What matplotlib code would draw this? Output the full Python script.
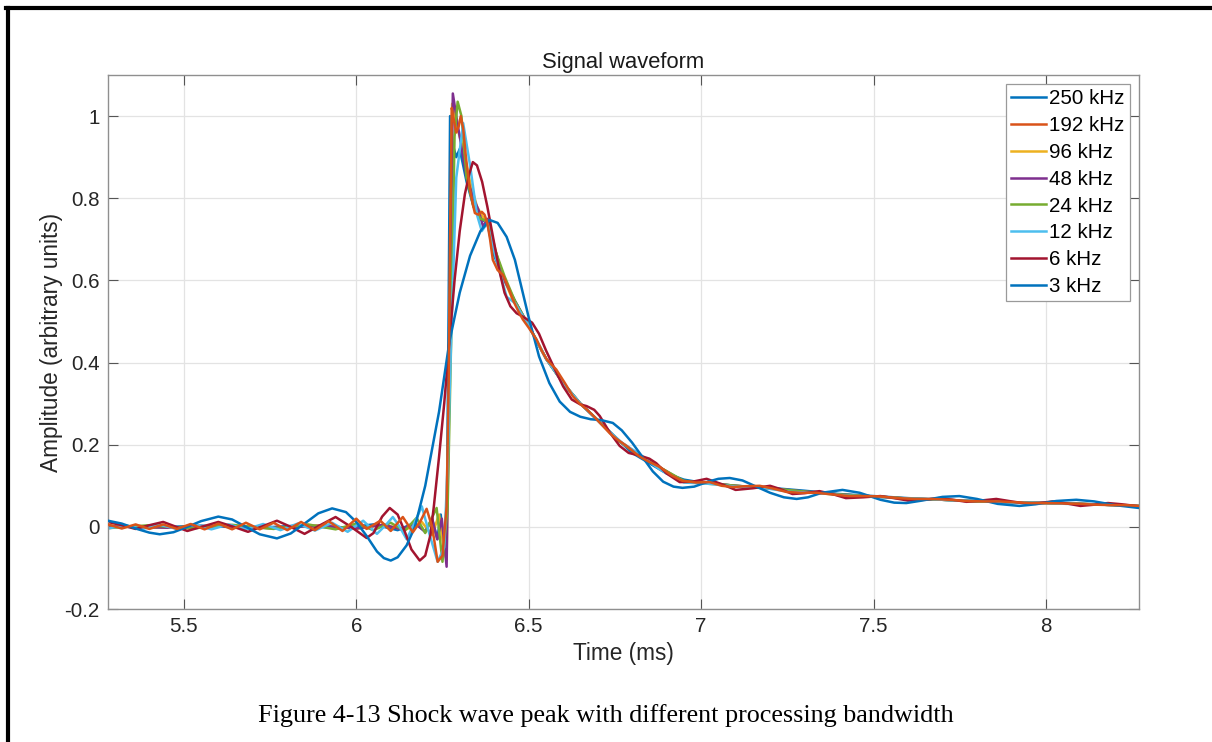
import matplotlib
matplotlib.use("Agg")
import matplotlib.pyplot as plt
from matplotlib.lines import Line2D

plt.rcParams['font.family'] = ['Liberation Sans', 'DejaVu Sans']
plt.rcParams['axes.unicode_minus'] = False

# ---- data (time in ms, amplitude) ----
labels = ['250 kHz', '192 kHz', '96 kHz', '48 kHz', '24 kHz', '12 kHz', '6 kHz', '3 kHz']
colors = ['#0072BD', '#D95319', '#EDB120', '#7E2F8E', '#77AC30', '#4DBEEE', '#A2142F', '#0072BD']

t_250 = [5.28, 5.40, 5.55, 5.70, 5.85, 5.95, 6.05, 6.12, 6.17, 6.20, 6.22, 6.235, 6.245, 6.255,
         6.262, 6.268, 6.272, 6.28, 6.29, 6.30, 6.32, 6.34, 6.36, 6.38, 6.40, 6.43, 6.46, 6.50,
         6.55, 6.60, 6.65, 6.70, 6.75, 6.80, 6.85, 6.90, 6.95, 7.00, 7.10, 7.20, 7.30, 7.40,
         7.50, 7.60, 7.70, 7.80, 7.90, 8.00, 8.10, 8.20, 8.27]
a_250 = [0.002, -0.002, 0.003, -0.003, 0.004, -0.004, 0.006, -0.008, 0.010, -0.012, 0.02, -0.03, 0.03, -0.06,
         -0.03, 0.55, 1.00, 0.93, 0.90, 0.92, 0.84, 0.78, 0.75, 0.74, 0.66, 0.60, 0.55, 0.49,
         0.41, 0.35, 0.30, 0.26, 0.22, 0.18, 0.155, 0.13, 0.115, 0.108, 0.10, 0.095, 0.088, 0.08,
         0.075, 0.07, 0.066, 0.063, 0.06, 0.058, 0.056, 0.053, 0.05]

t_192 = [5.28, 5.32, 5.36, 5.40, 5.44, 5.48, 5.52, 5.56, 5.60, 5.64, 5.68, 5.72, 5.76, 5.80,
         5.84, 5.88, 5.92, 5.96, 6.00, 6.03, 6.07, 6.10, 6.135, 6.164, 6.185, 6.204, 6.22, 6.236,
         6.25, 6.262, 6.268, 6.272, 6.277, 6.283, 6.29, 6.297, 6.303, 6.31, 6.318, 6.325, 6.33,
         6.338, 6.344, 6.354, 6.364, 6.372, 6.38, 6.388, 6.396, 6.41, 6.425, 6.44, 6.454, 6.47,
         6.483, 6.50, 6.523, 6.537, 6.552, 6.566, 6.58, 6.605, 6.628, 6.648, 6.668, 6.69, 6.716,
         6.735, 6.755, 6.784, 6.82, 6.85, 6.88, 6.915, 6.946, 6.985, 7.025, 7.06, 7.093, 7.13,
         7.17, 7.21, 7.248, 7.29, 7.335, 7.38, 7.43, 7.475, 7.52, 7.57, 7.62, 7.67, 7.72, 7.77,
         7.82, 7.865, 7.91, 7.955, 8.0, 8.05, 8.1, 8.145, 8.19, 8.23, 8.27]
a_192 = [0.006, -0.004, 0.006, -0.005, 0.006, -0.005, 0.007, -0.006, 0.008, -0.006, 0.010, -0.006,
         0.010, -0.008, 0.012, -0.008, 0.014, -0.010, 0.020, -0.005, 0.015, -0.010, 0.024, -0.013,
         0.012, 0.044, 0.0, -0.085, -0.07, 0.05, 0.35, 0.70, 1.02, 0.99, 0.96, 0.975, 1.00, 0.97,
         0.90, 0.85, 0.82, 0.785, 0.764, 0.76, 0.767, 0.76, 0.74, 0.70, 0.65, 0.625, 0.614, 0.585,
         0.553, 0.525, 0.505, 0.485, 0.456, 0.43, 0.408, 0.395, 0.383, 0.35, 0.318, 0.30, 0.286,
         0.268, 0.245, 0.228, 0.214, 0.197, 0.172, 0.158, 0.146, 0.125, 0.112, 0.108, 0.109, 0.10,
         0.097, 0.099, 0.10, 0.093, 0.085, 0.083, 0.083, 0.079, 0.075, 0.075, 0.074, 0.07, 0.068,
         0.068, 0.066, 0.063, 0.062, 0.062, 0.06, 0.058, 0.058, 0.057, 0.056, 0.054, 0.053, 0.053, 0.051]

t_96 = [5.28, 5.45, 5.60, 5.75, 5.90, 6.00, 6.08, 6.14, 6.19, 6.22, 6.24, 6.255, 6.262, 6.27,
        6.278, 6.29, 6.31, 6.33, 6.35, 6.37, 6.39, 6.42, 6.45, 6.50, 6.55, 6.60, 6.65, 6.70,
        6.76, 6.82, 6.88, 6.95, 7.02, 7.10, 7.20, 7.30, 7.40, 7.50, 7.60, 7.70, 7.80, 7.90,
        8.00, 8.10, 8.20, 8.27]
a_96 = [0.003, -0.002, 0.003, -0.003, 0.004, -0.005, 0.006, -0.008, 0.012, -0.02, 0.03, -0.06, -0.08, 0.4,
        1.03, 0.98, 0.92, 0.84, 0.78, 0.75, 0.72, 0.62, 0.56, 0.49, 0.41, 0.35, 0.30, 0.26,
        0.21, 0.175, 0.145, 0.11, 0.105, 0.10, 0.093, 0.085, 0.078, 0.074, 0.069, 0.066, 0.062, 0.06,
        0.058, 0.056, 0.053, 0.051]

t_48 = [5.28, 5.45, 5.60, 5.75, 5.90, 6.00, 6.08, 6.13, 6.17, 6.20, 6.22, 6.235, 6.248, 6.262,
        6.272, 6.28, 6.29, 6.30, 6.32, 6.34, 6.355, 6.368, 6.38, 6.40, 6.43, 6.46, 6.50, 6.55,
        6.60, 6.65, 6.70, 6.76, 6.82, 6.88, 6.95, 7.02, 7.10, 7.20, 7.30, 7.40, 7.50, 7.60,
        7.70, 7.80, 7.90, 8.00, 8.10, 8.20, 8.27]
a_48 = [0.002, -0.002, 0.002, -0.003, 0.003, -0.004, 0.005, -0.006, 0.008, -0.012, 0.02, -0.03, 0.02, -0.097,
        0.5, 1.055, 1.0, 0.95, 0.85, 0.80, 0.77, 0.73, 0.75, 0.68, 0.60, 0.55, 0.49, 0.41,
        0.35, 0.30, 0.26, 0.21, 0.175, 0.145, 0.11, 0.107, 0.10, 0.094, 0.086, 0.079, 0.074, 0.069,
        0.066, 0.062, 0.06, 0.058, 0.056, 0.053, 0.051]

t_24 = [5.28, 5.40, 5.52, 5.64, 5.76, 5.86, 5.94, 6.00, 6.05, 6.10, 6.14, 6.175, 6.20, 6.218, 6.233,
        6.25, 6.265, 6.275, 6.285, 6.294, 6.305, 6.32, 6.34, 6.36, 6.38, 6.40, 6.43, 6.46, 6.50,
        6.55, 6.60, 6.65, 6.70, 6.76, 6.82, 6.88, 6.95, 7.02, 7.10, 7.20, 7.30, 7.40, 7.50,
        7.60, 7.70, 7.80, 7.90, 8.00, 8.10, 8.20, 8.27]
a_24 = [-0.003, 0.004, -0.004, 0.005, -0.005, 0.006, -0.006, 0.008, -0.008, 0.010, -0.010, 0.022, -0.015, 0.02, 0.046,
        -0.085, 0.05, 0.45, 0.95, 1.035, 1.0, 0.85, 0.78, 0.75, 0.745, 0.68, 0.61, 0.55, 0.49,
        0.41, 0.35, 0.30, 0.26, 0.21, 0.175, 0.145, 0.112, 0.107, 0.10, 0.094, 0.086, 0.079, 0.074,
        0.069, 0.066, 0.062, 0.06, 0.058, 0.056, 0.053, 0.051]

t_12 = [5.28, 5.33, 5.38, 5.43, 5.48, 5.53, 5.58, 5.63, 5.68, 5.73, 5.78, 5.83, 5.88, 5.93,
        5.975, 6.02, 6.06, 6.085, 6.106, 6.126, 6.146, 6.168, 6.19, 6.213, 6.236, 6.255, 6.265,
        6.275, 6.29, 6.31, 6.33, 6.35, 6.364, 6.38, 6.40, 6.436, 6.46, 6.50, 6.55, 6.60, 6.65,
        6.686, 6.726, 6.77, 6.82, 6.88, 6.95, 7.02, 7.10, 7.18, 7.26, 7.34, 7.42, 7.50, 7.58,
        7.66, 7.74, 7.82, 7.90, 7.98, 8.06, 8.14, 8.22, 8.27]
a_12 = [-0.004, 0.004, -0.005, 0.005, -0.005, 0.005, -0.006, 0.006, -0.006, 0.007, -0.008, 0.008, -0.009, 0.010,
        -0.012, 0.015, -0.017, 0.004, 0.024, 0.0, -0.03, 0.008, 0.05, -0.02, -0.085, -0.05, 0.15,
        0.45, 0.85, 0.983, 0.88, 0.76, 0.72, 0.74, 0.67, 0.56, 0.545, 0.49, 0.41, 0.35, 0.30,
        0.27, 0.238, 0.205, 0.178, 0.14, 0.108, 0.105, 0.098, 0.095, 0.085, 0.083, 0.076, 0.074, 0.069,
        0.068, 0.064, 0.063, 0.059, 0.059, 0.056, 0.055, 0.052, 0.051]

t_6 = [5.28, 5.32, 5.36, 5.40, 5.44, 5.475, 5.51, 5.555, 5.60, 5.645, 5.686, 5.73, 5.77, 5.81,
       5.85, 5.895, 5.94, 5.985, 6.03, 6.05, 6.075, 6.097, 6.12, 6.14, 6.16, 6.184, 6.20, 6.215,
       6.225, 6.24, 6.255, 6.27, 6.285, 6.30, 6.315, 6.328, 6.338, 6.35, 6.365, 6.38, 6.40, 6.416,
       6.43, 6.447, 6.465, 6.483, 6.51, 6.53, 6.55, 6.575, 6.60, 6.625, 6.65, 6.668, 6.69, 6.706,
       6.735, 6.764, 6.79, 6.82, 6.85, 6.87, 6.90, 6.938, 6.975, 7.016, 7.06, 7.10, 7.15, 7.2,
       7.23, 7.265, 7.30, 7.343, 7.38, 7.42, 7.47, 7.52, 7.56, 7.60, 7.645, 7.69, 7.73, 7.77,
       7.81, 7.856, 7.90, 7.94, 7.98, 8.02, 8.06, 8.1, 8.14, 8.18, 8.22, 8.27]
a_6 = [0.012, 0.004, -0.005, 0.004, 0.012, 0.001, -0.01, 0.001, 0.012, 0.0, -0.012, 0.002, 0.015, 0.0,
       -0.017, 0.004, 0.024, 0.0, -0.027, -0.015, 0.025, 0.046, 0.03, -0.01, -0.055, -0.082, -0.07, -0.02,
       0.05, 0.17, 0.30, 0.45, 0.60, 0.72, 0.81, 0.86, 0.888, 0.88, 0.84, 0.78, 0.69, 0.62,
       0.57, 0.537, 0.52, 0.512, 0.497, 0.47, 0.43, 0.385, 0.342, 0.31, 0.298, 0.294, 0.285, 0.27,
       0.23, 0.197, 0.18, 0.174, 0.166, 0.155, 0.13, 0.109, 0.110, 0.117, 0.104, 0.09, 0.094, 0.1,
       0.092, 0.08, 0.082, 0.087, 0.08, 0.07, 0.072, 0.075, 0.07, 0.064, 0.066, 0.07, 0.066, 0.061,
       0.064, 0.068, 0.062, 0.057, 0.058, 0.062, 0.057, 0.051, 0.054, 0.058, 0.055, 0.05]

t_3 = [5.28, 5.32, 5.36, 5.40, 5.43, 5.47, 5.51, 5.55, 5.60, 5.64, 5.68, 5.72, 5.77, 5.81,
       5.85, 5.89, 5.93, 5.97, 6.0, 6.03, 6.06, 6.08, 6.10, 6.12, 6.146, 6.17, 6.20, 6.24,
       6.27, 6.30, 6.33, 6.36, 6.387, 6.41, 6.436, 6.46, 6.48, 6.50, 6.53, 6.56, 6.59, 6.62,
       6.65, 6.68, 6.71, 6.744, 6.77, 6.80, 6.83, 6.86, 6.89, 6.92, 6.946, 6.98, 7.02, 7.05,
       7.083, 7.12, 7.16, 7.20, 7.24, 7.277, 7.31, 7.35, 7.41, 7.46, 7.52, 7.56, 7.595, 7.64,
       7.70, 7.749, 7.80, 7.86, 7.923, 7.97, 8.03, 8.088, 8.14, 8.20, 8.27]
a_3 = [0.015, 0.008, -0.004, -0.014, -0.018, -0.013, 0.0, 0.014, 0.025, 0.018, 0.0, -0.018, -0.028, -0.016,
       0.008, 0.033, 0.045, 0.036, 0.012, -0.022, -0.060, -0.076, -0.082, -0.074, -0.045, 0.0, 0.10, 0.28,
       0.45, 0.57, 0.66, 0.72, 0.747, 0.74, 0.706, 0.65, 0.58, 0.51, 0.415, 0.35, 0.305, 0.28,
       0.268, 0.262, 0.26, 0.253, 0.235, 0.205, 0.17, 0.135, 0.11, 0.098, 0.095, 0.098, 0.11, 0.117,
       0.119, 0.113, 0.098, 0.083, 0.072, 0.068, 0.072, 0.083, 0.09, 0.083, 0.066, 0.059, 0.058, 0.064,
       0.073, 0.075, 0.068, 0.056, 0.051, 0.055, 0.063, 0.066, 0.062, 0.053, 0.046]

series_t = [t_250, t_192, t_96, t_48, t_24, t_12, t_6, t_3]
series_a = [a_250, a_192, a_96, a_48, a_24, a_12, a_6, a_3]
# the 192 kHz trace sits on top in the original
zorders = [2, 2.6, 2.1, 2.2, 2.3, 2.4, 2.5, 2.55]

fig = plt.figure(figsize=(12.12, 7.42), dpi=100)
ax = fig.add_axes([0.0891, 0.1792, 0.8507, 0.7197])

for t, a, c, lab, z in zip(series_t, series_a, colors, labels, zorders):
    ax.plot(t, a, color=c, lw=1.8, label=lab, zorder=z, solid_joinstyle='round')

ax.set_xlim(5.28, 8.27)
ax.set_ylim(-0.2, 1.1)
ax.set_xticks([5.5, 6, 6.5, 7, 7.5, 8])
ax.set_yticks([-0.2, 0, 0.2, 0.4, 0.6, 0.8, 1])
ax.set_xticklabels(['5.5', '6', '6.5', '7', '7.5', '8'])
ax.set_yticklabels(['-0.2', '0', '0.2', '0.4', '0.6', '0.8', '1'])
ax.grid(True, color='#e3e3e3', lw=0.9)
ax.set_axisbelow(True)
ax.tick_params(direction='in', length=7, width=0.8, color='#555555', labelcolor='#262626',
               labelsize=14.8, top=True, right=True, pad=6)
for s in ax.spines.values():
    s.set_color('#8f8f8f')
    s.set_linewidth(1.0)

ax.set_title('Signal waveform', fontsize=15.8, color='#1a1a1a', pad=5)
ax.set_xlabel('Time (ms)', fontsize=16.3, color='#262626', labelpad=4)
ax.set_ylabel('Amplitude (arbitrary units)', fontsize=16.3, color='#262626', labelpad=1)

leg = ax.legend(loc='upper right', fontsize=14.8, frameon=True, fancybox=False, framealpha=1,
                edgecolor='#9a9a9a', handlelength=1.7, handletextpad=0.15, labelspacing=0.38,
                borderpad=0.25, borderaxespad=0.45)
leg.get_frame().set_linewidth(0.9)
leg.set_zorder(5)

# caption and page frame
fig.text(0.5, 1 - 716 / 742, 'Figure 4-13 Shock wave peak with different processing bandwidth',
         ha='center', va='center', fontsize=18.8, family=['Liberation Serif', 'DejaVu Serif'])
fig.add_artist(Line2D([8 / 1212, 8 / 1212], [0, 1 - 8 / 742], color='black', lw=3, transform=fig.transFigure))
fig.add_artist(Line2D([6 / 1212, 1], [1 - 8 / 742, 1 - 8 / 742], color='black', lw=3, transform=fig.transFigure))

fig.savefig('out.png', dpi=100)
